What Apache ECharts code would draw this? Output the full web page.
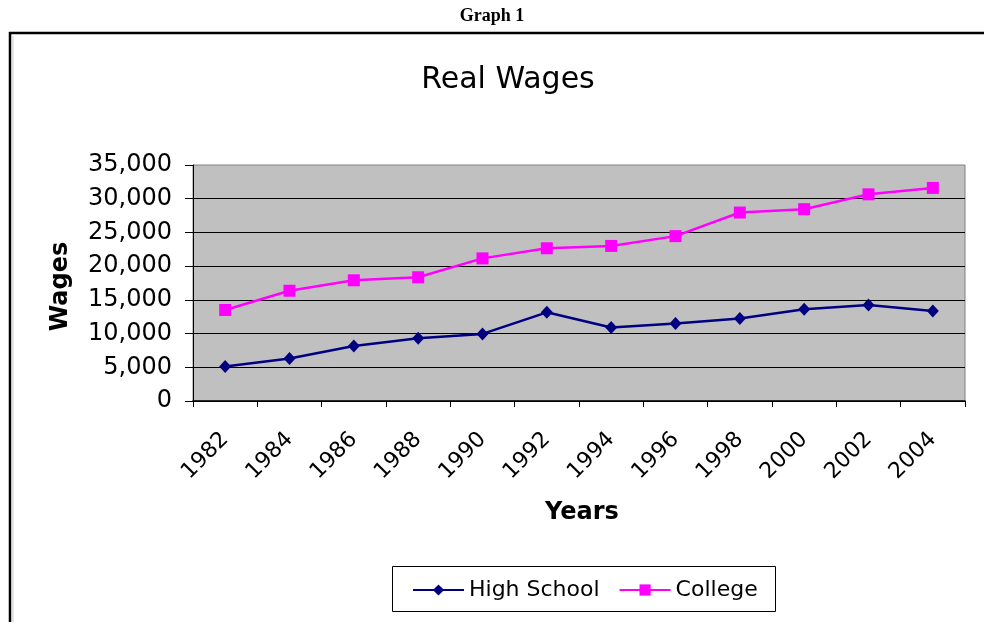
<!DOCTYPE html>
<html>
<head>
<meta charset="utf-8">
<style>
html,body{margin:0;padding:0;background:#fff;}
#chart{width:984px;height:622px;}
</style>
<script src="https://cdn.jsdelivr.net/npm/echarts@6/dist/echarts.min.js"></script>
</head>
<body>
<div id="chart"></div>
<script>
const years = ['1982','1984','1986','1988','1990','1992','1994','1996','1998','2000','2002','2004'];
const highSchool = [5100, 6300, 8150, 9300, 9950, 13150, 10900, 11500, 12250, 13600, 14250, 13350];
const college = [13500, 16350, 17900, 18350, 21150, 22650, 23000, 24450, 27950, 28450, 30650, 31600];
const yTicks = [0, 5000, 10000, 15000, 20000, 25000, 30000, 35000];

const chart = echarts.init(document.getElementById('chart'), null, {renderer: 'canvas'});
const fmt = v => v.toLocaleString('en-US');
const SANS = 'DejaVu Sans';

chart.setOption({
  animation: false,
  backgroundColor: '#ffffff',
  title: [{
    text: 'Graph 1',
    left: 'center',
    top: 2,
    textStyle: {fontFamily: 'Liberation Serif', fontWeight: 'bold', fontSize: 18, color: '#000'}
  }, {
    text: 'Real Wages',
    left: 503,
    textAlign: 'center',
    top: 60,
    textStyle: {fontFamily: SANS, fontWeight: 'normal', fontSize: 30, color: '#000'}
  }],
  graphic: [
    {type: 'line', shape: {x1: 9, y1: 33, x2: 984, y2: 33}, style: {stroke: '#000', lineWidth: 2.5}, z: 10},
    {type: 'line', shape: {x1: 10, y1: 32, x2: 10, y2: 622}, style: {stroke: '#000', lineWidth: 2.5}, z: 10},
    {type: 'line', shape: {x1: 13, y1: 36, x2: 13, y2: 622}, style: {stroke: '#dddddd', lineWidth: 1.5}, z: 10},
    {type: 'rect', shape: {x: 392.5, y: 566.5, width: 383, height: 45}, style: {fill: '#fff', stroke: '#000', lineWidth: 1}, z: 1}
  ],
  legend: {
    left: 407,
    top: 574,
    itemWidth: 51,
    itemHeight: 14,
    itemGap: 19,
    textStyle: {fontFamily: SANS, fontSize: 22, color: '#000'},
    data: ['High School', 'College'],
    z: 5
  },
  grid: {left: 193, right: 19, top: 165, bottom: 221, containLabel: false,
    show: true, backgroundColor: '#c0c0c0', borderColor: '#808080', borderWidth: 1},
  xAxis: {
    type: 'category',
    data: years,
    boundaryGap: true,
    name: 'Years',
    nameLocation: 'middle',
    nameGap: 100,
    nameTextStyle: {fontFamily: SANS, fontWeight: 'bold', fontSize: 24, color: '#000', padding: [0, 0, 0, 6]},
    axisLine: {lineStyle: {color: '#000', width: 1.5}},
    axisTick: {show: true, interval: 0, length: 6, lineStyle: {color: '#000'}},
    axisLabel: {interval: 0, rotate: 45, margin: 35,
      fontFamily: SANS, fontSize: 22, color: '#000'}
  },
  yAxis: {
    type: 'value',
    min: 0,
    max: 35000,
    interval: 5000,
    name: 'Wages',
    nameLocation: 'middle',
    nameGap: 120,
    nameTextStyle: {fontFamily: SANS, fontWeight: 'bold', fontSize: 24, color: '#000', padding: [0, 7, 0, 0]},
    axisLine: {show: true, lineStyle: {color: '#000', width: 1}},
    axisTick: {show: true, length: 8, inside: false, lineStyle: {color: '#000'}},
    axisLabel: {margin: 21, fontFamily: SANS, fontSize: 24, color: '#000',
      formatter: v => yTicks.includes(v) ? fmt(v) : ''},
    splitLine: {show: true, showMaxLine: false, lineStyle: {color: '#000', width: 1}}
  },
  series: [{
    name: 'High School',
    type: 'line',
    data: highSchool,
    symbol: 'diamond',
    symbolSize: [12, 13],
    lineStyle: {color: '#000080', width: 2.5},
    itemStyle: {color: '#000080'},
    z: 3
  }, {
    name: 'College',
    type: 'line',
    data: college,
    symbol: 'rect',
    symbolSize: 12,
    lineStyle: {color: '#ff00ff', width: 2.5},
    itemStyle: {color: '#ff00ff'},
    z: 3
  }]
});
</script>
</body>
</html>
